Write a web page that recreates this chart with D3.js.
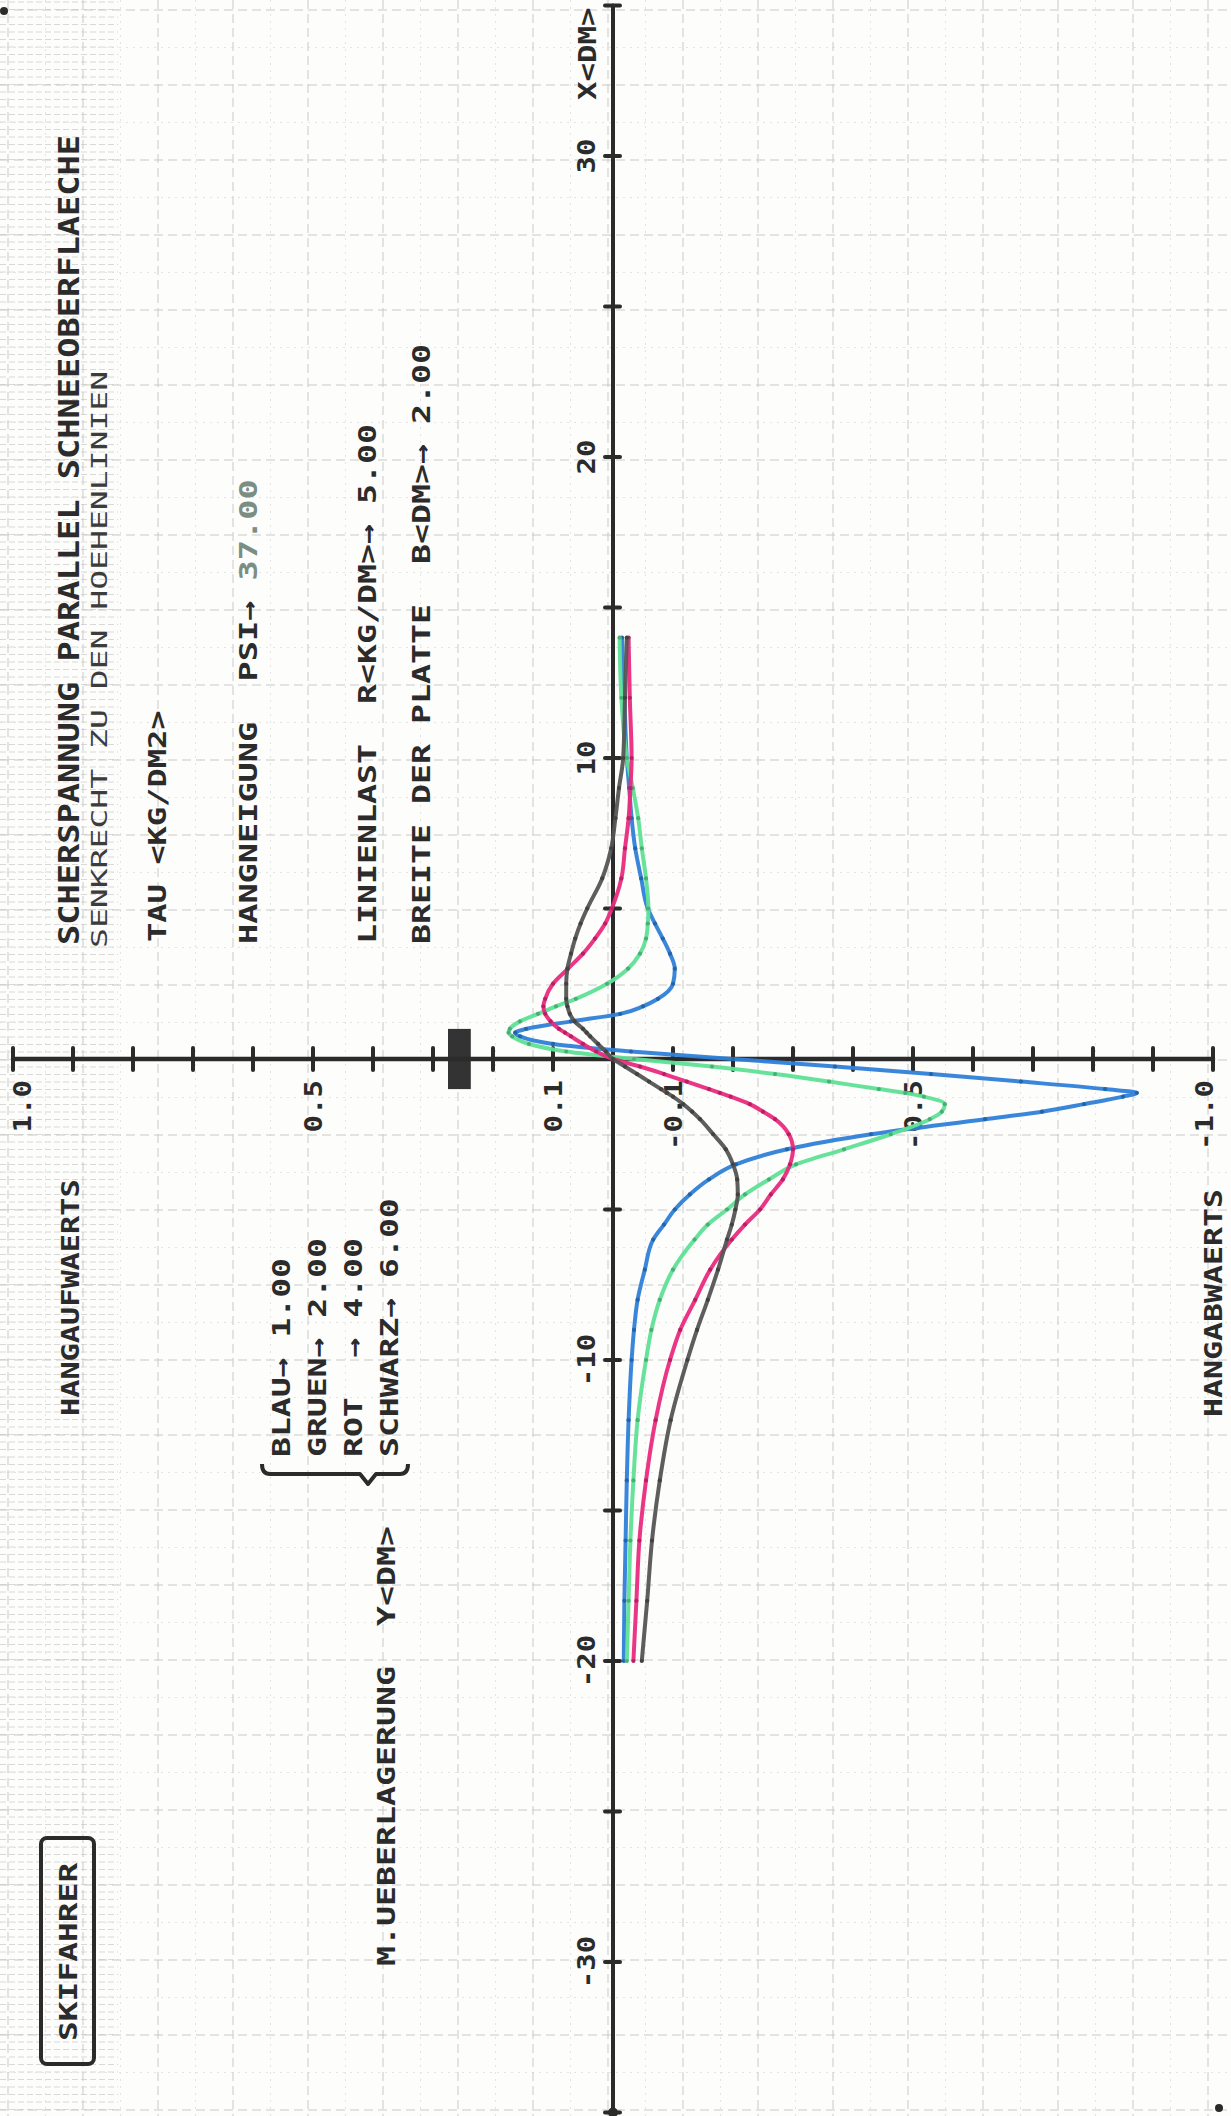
<!DOCTYPE html>
<html>
<head>
<meta charset="utf-8">
<script src="https://cdn.jsdelivr.net/npm/d3@7/dist/d3.min.js"></script>
<style>
  html, body { margin: 0; padding: 0; background: #fdfdfb; }
  svg text { font-family: "DejaVu Sans Mono", "Liberation Mono", monospace; white-space: pre; }
</style>
</head>
<body>
<svg id="chart" width="1231" height="2116"></svg>
<script>
// ---------------- DATA ----------------
// X position along the slope (DM); curves are tau(X) in KG/DM2
const xValues = [-20, -18, -16, -14, -12, -10, -9, -8, -7, -6,
  -5.5, -5, -4.5, -4, -3.5, -3, -2.5, -2, -1.75, -1.5,
  -1.25, -1.125, -1, -0.75, -0.5, -0.25, 0, 0.25, 0.5, 0.75,
  0.875, 1, 1.25, 1.5, 1.75, 2, 2.5, 3, 3.5, 4,
  4.5, 5, 6, 7, 8, 9, 10, 12, 14];

const tauBlau = [-0.018, -0.019, -0.021, -0.023, -0.026, -0.031, -0.035, -0.041, -0.053, -0.067,
  -0.085, -0.103, -0.128, -0.16, -0.205, -0.29, -0.43, -0.62, -0.715, -0.785,
  -0.85, -0.873, -0.82, -0.68, -0.53, -0.37, -0.2, -0.03, 0.1, 0.155,
  0.163, 0.145, 0.07, -0.012, -0.05, -0.075, -0.1, -0.103, -0.095, -0.083,
  -0.07, -0.058, -0.047, -0.037, -0.031, -0.027, -0.023, -0.019, -0.015];

const tauGruen = [-0.023, -0.026, -0.029, -0.034, -0.041, -0.055, -0.064, -0.078, -0.1, -0.136,
  -0.158, -0.19, -0.22, -0.26, -0.305, -0.385, -0.463, -0.528, -0.548, -0.553,
  -0.518, -0.487, -0.443, -0.36, -0.27, -0.165, -0.035, 0.078, 0.14, 0.168,
  0.174, 0.172, 0.155, 0.125, 0.095, 0.062, 0.01, -0.025, -0.045, -0.055,
  -0.058, -0.059, -0.055, -0.048, -0.042, -0.033, -0.023, -0.014, -0.011];

const tauRot = [-0.034, -0.039, -0.044, -0.055, -0.071, -0.095, -0.112, -0.137, -0.162, -0.198,
  -0.22, -0.245, -0.263, -0.283, -0.295, -0.3, -0.293, -0.27, -0.25, -0.228,
  -0.196, -0.178, -0.16, -0.123, -0.085, -0.045, 0, 0.028, 0.05, 0.07,
  0.08, 0.09, 0.104, 0.113, 0.116, 0.113, 0.1, 0.075, 0.05, 0.03,
  0.013, 0.002, -0.014, -0.02, -0.026, -0.029, -0.031, -0.028, -0.026];

const tauSchwarz = [-0.048, -0.057, -0.065, -0.078, -0.096, -0.124, -0.14, -0.158, -0.175, -0.19,
  -0.198, -0.204, -0.208, -0.207, -0.2, -0.188, -0.167, -0.145, -0.132, -0.117,
  -0.1, -0.09, -0.08, -0.06, -0.04, -0.02, 0, 0.012, 0.025, 0.038,
  0.044, 0.05, 0.064, 0.072, 0.076, 0.078, 0.078, 0.076, 0.07, 0.063,
  0.054, 0.043, 0.018, 0.003, -0.004, -0.01, -0.017, -0.02, -0.023];

const seriesNames = ["BLAU", "GRUEN", "ROT", "SCHWARZ"];
const seriesB = [1.00, 2.00, 4.00, 6.00];
const seriesColors = ["#2f80d8", "#5fe096", "#ea2a7e", "#555555"];
const legendLabels = ["BLAU\u2192 1.00", "GRUEN\u2192 2.00", "ROT  \u2192 4.00", "SCHWARZ\u2192 6.00"];

const xTickValues = [30, 20, 10, -10, -20, -30];
const xTickLabels = ["30", "20", "10", "-10", "-20", "-30"];
const tauTickValues = [1.0, 0.5, 0.1, -0.1, -0.5, -1.0];
const tauTickLabels = ["1.0", "0.5", "0.1", "-0.1", "-0.5", "-1.0"];

const plateB = 2.00;            // plate width (DM)
const plateTau = [0.237, 0.275]; // drawn band of the plate symbol

// ---------------- LAYOUT ----------------
const W = 1231, H = 2116;
const svg = d3.select("#chart");
const ink = "#2b2b2b";

// graph paper
const paper = svg.append("g");
paper.append("rect").attr("width", W).attr("height", H).attr("fill", "#fdfdfb");
const minorX = d3.range(8 + 37.5, W, 75), minorY = d3.range(10 + 37.5, H, 75);
paper.selectAll(".mx").data(minorX).join("line").attr("x1", d => d).attr("x2", d => d)
  .attr("y1", 0).attr("y2", H).attr("stroke", "#e4e4e4").attr("stroke-dasharray", "2 5");
paper.selectAll(".my").data(minorY).join("line").attr("y1", d => d).attr("y2", d => d)
  .attr("x1", 0).attr("x2", W).attr("stroke", "#e4e4e4").attr("stroke-dasharray", "2 5");
paper.selectAll(".dy").data(d3.range(2, H, 7.5)).join("line").attr("y1", d => d).attr("y2", d => d)
  .attr("x1", 0).attr("x2", 118).attr("stroke", "#d9d9d9").attr("stroke-dasharray", "6 3");
paper.selectAll(".gx").data(d3.range(8, W, 75)).join("line").attr("x1", d => d).attr("x2", d => d)
  .attr("y1", 0).attr("y2", H).attr("stroke", "#c9c9c9").attr("stroke-dasharray", "9 5");
paper.selectAll(".gy").data(d3.range(10, H, 75)).join("line").attr("y1", d => d).attr("y2", d => d)
  .attr("x1", 0).attr("x2", W).attr("stroke", "#c9c9c9").attr("stroke-dasharray", "9 5");

// rotated plot group: (u, v) -> page (v, H - u)
const g = svg.append("g").attr("transform", `translate(0,${H}) rotate(-90)`);

const xScale = d3.scaleLinear().domain([-35, 35]).range([3.5, 2110.5]);   // u
const tauScale = d3.scaleLinear().domain([1, -1]).range([13, 1213]);    // v

const u0 = xScale(0), v0 = tauScale(0);

function plotText(parent, str, u, v, pitch, size, weight, color, anchor) {
  return parent.append("text")
    .attr("x", u).attr("y", v)
    .attr("font-size", size).attr("font-weight", weight || "bold")
    .attr("fill", color || ink)
    .attr("text-anchor", anchor || "start")
    .attr("textLength", str.length * pitch)
    .attr("lengthAdjust", "spacingAndGlyphs")
    .text(str);
}

// plate symbol
g.append("rect")
  .attr("x", xScale(-plateB / 2)).attr("width", xScale(plateB / 2) - xScale(-plateB / 2))
  .attr("y", tauScale(plateTau[1])).attr("height", tauScale(plateTau[0]) - tauScale(plateTau[1]))
  .attr("fill", "#333");

// axes
const axisG = g.append("g").attr("stroke", ink).attr("stroke-linecap", "round");
axisG.append("line").attr("x1", xScale(-35)).attr("x2", xScale(35)).attr("y1", v0).attr("y2", v0)
  .attr("stroke-width", 4);
axisG.append("line").attr("x1", u0).attr("x2", u0).attr("y1", tauScale(1)).attr("y2", tauScale(-1))
  .attr("stroke-width", 4.5);
axisG.selectAll(".xt").data(xScale.ticks(14)).join("line")
  .attr("x1", d => xScale(d)).attr("x2", d => xScale(d)).attr("y1", v0 - 8).attr("y2", v0 + 7)
  .attr("stroke-width", 4);
axisG.selectAll(".tt").data(tauScale.ticks(20)).join("line")
  .attr("x1", u0 - 11).attr("x2", u0 + 11).attr("y1", d => tauScale(d)).attr("y2", d => tauScale(d))
  .attr("stroke-width", 4);
g.append("circle").attr("cx", xScale(-35)).attr("cy", v0).attr("r", 5).attr("fill", ink);
svg.append("circle").attr("cx", 4).attr("cy", 11).attr("r", 4).attr("fill", ink);
svg.append("circle").attr("cx", 1219).attr("cy", 2108).attr("r", 4).attr("fill", ink);

// tick labels
xTickValues.forEach((d, i) => {
  plotText(g, xTickLabels[i], xScale(d), v0 - 18, 17.5, 25, "bold", ink, "middle");
});
tauTickValues.forEach((d, i) => {
  const v = Math.max(22, Math.min(1204, tauScale(d)));
  plotText(g, tauTickLabels[i], u0 - 21, v + 9, 17.5, 25, "bold", ink, "end");
});
plotText(g, "X<DM>", 2016, v0 - 17, 18.5, 25, "bold");

// curves
const seriesData = [tauBlau, tauGruen, tauRot, tauSchwarz];
const line = d3.line().x(d => xScale(d[0])).y(d => tauScale(d[1])).curve(d3.curveMonotoneX);
const curvesG = g.append("g");
seriesData.forEach((vals, i) => {
  const pts = xValues.map((x, j) => [x, vals[j]]);
  curvesG.append("path").datum(pts).attr("d", line)
    .attr("fill", "none").attr("stroke", seriesColors[i]).attr("stroke-width", 4)
    .attr("stroke-linejoin", "round").attr("stroke-opacity", 0.95);
  curvesG.selectAll(".p" + i).data(pts).join("circle")
    .attr("cx", d => xScale(d[0])).attr("cy", d => tauScale(d[1])).attr("r", 2.1)
    .attr("fill", d3.color(seriesColors[i]).darker(0.7));
});

// texts (rotated with the plot)
plotText(g, "SCHERSPANNUNG PARALLEL SCHNEEOBERFLAECHE", 1171, 79, 20.25, 29, "bold");
plotText(g, "SENKRECHT ZU DEN HOEHENLINIEN", 1168, 107, 19.9, 21, "normal", "#3c3c3c");
plotText(g, "TAU <KG/DM2>", 1174, 166, 19.3, 25, "bold");
plotText(g, "HANGNEIGUNG  PSI\u2192", 1172, 257, 20.2, 25, "bold");
plotText(g, "37.00", 1172 + 18 * 20.2, 257, 20.2, 25, "bold", "#7a8e84");
plotText(g, "LINIENLAST  R<KG/DM>\u2192 5.00", 1172, 376, 20, 25, "bold");
plotText(g, "BREITE DER PLATTE  B<DM>\u2192 2.00", 1172, 430, 20, 25, "bold");
plotText(g, "HANGAUFWAERTS", 700, 79, 18.2, 25, "bold");
plotText(g, "HANGABWAERTS", 699, 1222, 19, 25, "bold");

const legendBase = [290, 326, 362, 398];
legendLabels.forEach((s, i) => plotText(g, s, 659, legendBase[i], 19.9, 25, "bold"));
plotText(g, "M.UEBERLAGERUNG  Y<DM>", 150, 395, 20, 25, "bold");

// SKIFAHRER box
g.append("rect").attr("x", 52).attr("y", 41).attr("width", 226).attr("height", 53).attr("rx", 6)
  .attr("fill", "none").attr("stroke", ink).attr("stroke-width", 4);
plotText(g, "SKIFAHRER", 75, 77, 19.8, 25, "bold");

// legend brace (page coordinates)
svg.append("path")
  .attr("d", "M262,1464 Q262,1474 270,1474 L360,1474 L368,1484 L376,1474 L400,1474 Q408,1474 408,1464")
  .attr("fill", "none").attr("stroke", ink).attr("stroke-width", 4).attr("stroke-linejoin", "round");
</script>
</body>
</html>
